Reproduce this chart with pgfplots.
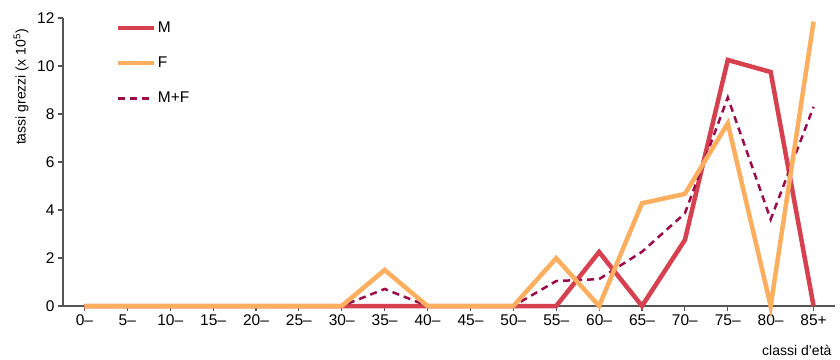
\documentclass[border=0pt]{standalone}
\usepackage{pgfplots}
\pgfplotsset{compat=1.18}
\usepackage{fontspec}
\setmainfont{Liberation Sans}
\definecolor{cM}{HTML}{D6404F}
\definecolor{cF}{HTML}{FDAE5E}
\definecolor{cMF}{HTML}{9B0B4A}
\definecolor{axc}{HTML}{555555}
\begin{document}
\begin{tikzpicture}
\begin{axis}[
  scale only axis, width=772pt, height=288pt,
  xmin=-0.5, xmax=17.5, ymin=0, ymax=12,
  axis x line=bottom, axis y line=left,
  axis line style={-, draw=axc, line width=1.2pt},
  tick style={draw=axc, line width=1.2pt},
  tick align=outside, major tick length=5pt,
  xtick={0,...,17},
  xticklabels={0–,5–,10–,15–,20–,25–,30–,35–,40–,45–,50–,55–,60–,65–,70–,75–,80–,85+},
  ytick={0,2,...,12},
  /pgf/number format/assume math mode=true,
  ticklabel style={font=\fontsize{15.5}{15.5}\selectfont},
  clip=false,
  legend style={draw=none, fill=none, at={([yshift=-2pt]axis description cs:0.068,1.0)}, anchor=north west,
    row sep=19pt, font=\fontsize{15.5}{15.5}\selectfont, inner sep=0pt, outer sep=0pt},
  legend cell align=left,
  legend image code/.code={\draw[#1] (0pt,0pt) -- (36pt,0pt);},
]
\addlegendimage{cM, line width=4.5pt}
\addlegendentry{M}
\addlegendimage{cF, line width=4.5pt}
\addlegendentry{F}
\addlegendimage{cMF, line width=2.5pt, dash pattern=on 7pt off 5pt}
\addlegendentry{M+F}
\addplot[forget plot, cM, line width=4.5pt, line join=miter] coordinates {
(0,0)(1,0)(2,0)(3,0)(4,0)(5,0)(6,0)(7,0)(8,0)(9,0)(10,0)(11,0)(12,2.25)(13,0)(14,2.75)(15,10.25)(16,9.75)(17,0)};
\addplot[forget plot, cMF, line width=2.5pt, dash pattern=on 7pt off 5pt] coordinates {
(0,0)(1,0)(2,0)(3,0)(4,0)(5,0)(6,0)(7,0.71)(8,0)(9,0)(10,0)(11,1.04)(12,1.12)(13,2.26)(14,3.86)(15,8.69)(16,3.61)(17,8.3)};
\addplot[forget plot, cF, line width=4.5pt, line join=miter] coordinates {
(0,0)(1,0)(2,0)(3,0)(4,0)(5,0)(6,0)(7,1.5)(8,0)(9,0)(10,0)(11,1.99)(12,0)(13,4.28)(14,4.67)(15,7.61)(16,0)(17,11.85)};
\node[rotate=90, anchor=south, font=\fontsize{14}{14}\selectfont] at ([xshift=-31pt]rel axis cs:0,0.76) {tassi grezzi (x 10\textsuperscript{5})};
\node[anchor=north east, font=\fontsize{14}{14}\selectfont] at ([yshift=-36pt]rel axis cs:1,0) {classi d’età};
\end{axis}
\path[use as bounding box] ([xshift=-63pt,yshift=-52pt]current axis.south west) rectangle ([xshift=5pt,yshift=18pt]current axis.north east);
\end{tikzpicture}
\end{document}
